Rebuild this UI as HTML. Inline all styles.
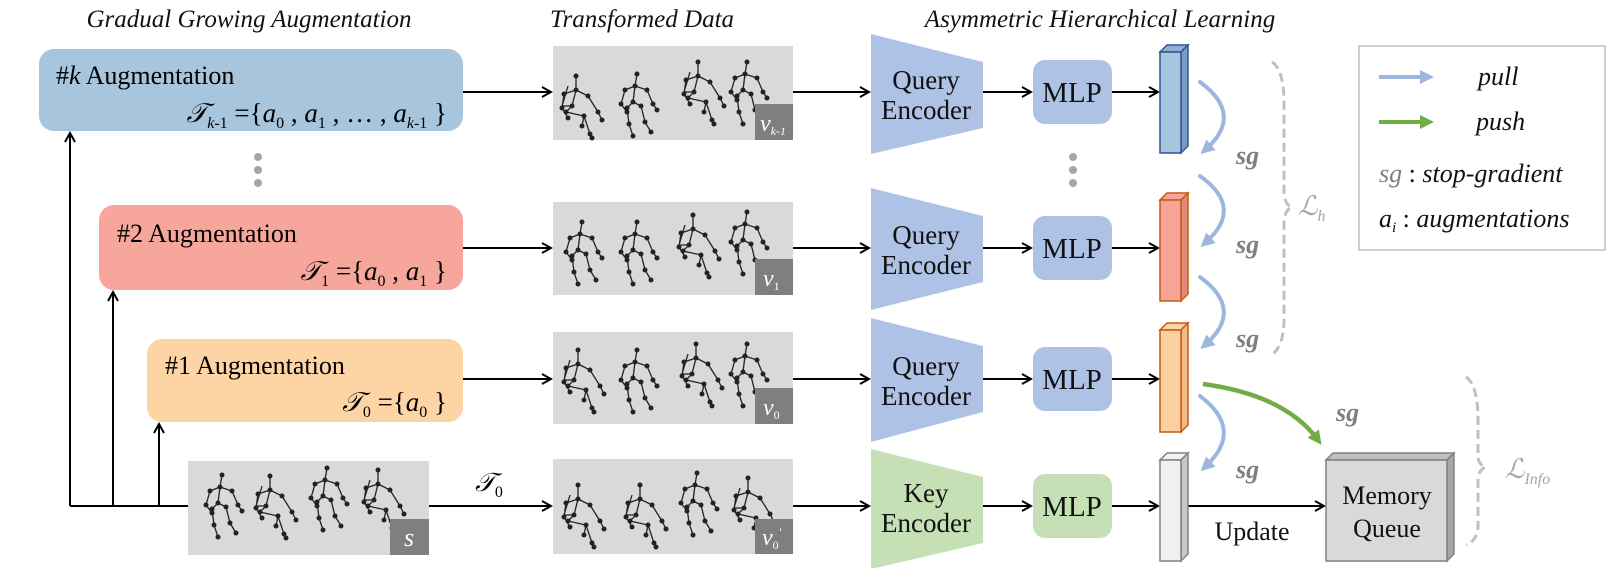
<!DOCTYPE html>
<html><head><meta charset="utf-8"><style>
html,body{margin:0;padding:0;background:#fff;}
svg{display:block;}
text{font-family:"Liberation Serif",serif;}
</style></head><body>
<svg width="1609" height="568" viewBox="0 0 1609 568" xmlns="http://www.w3.org/2000/svg">
<defs>
<marker id="ah" markerWidth="12" markerHeight="12" refX="10" refY="6" orient="auto" markerUnits="userSpaceOnUse">
<path d="M1,1 L10,6 L1,11" fill="none" stroke="#000" stroke-width="2"/></marker>
<marker id="bh" markerWidth="16" markerHeight="16" refX="8" refY="8" orient="auto" markerUnits="userSpaceOnUse">
<path d="M0,1 L14,8 L0,15 Z" fill="#9db6e0"/></marker>
<marker id="gh" markerWidth="16" markerHeight="16" refX="8" refY="8" orient="auto" markerUnits="userSpaceOnUse">
<path d="M0,1 L14,8 L0,15 Z" fill="#70ad47"/></marker>
<g id="fig" fill="none" stroke="#222" stroke-width="1.3">
<path d="M12,0 L10,12 L8,28 M10,12 L0,16 L-4,30 L2,38 M10,12 L22,16 L28,30 L32,36 M8,28 L2,34 L4,50 L8,62 M8,28 L16,32 L20,48 L26,58"/>
<g fill="#222" stroke="none"><circle cx="12" cy="0" r="2.5"/><circle cx="10" cy="12" r="2.5"/><circle cx="0" cy="16" r="2.5"/><circle cx="-4" cy="30" r="2.5"/><circle cx="2" cy="38" r="2.5"/><circle cx="22" cy="16" r="2.5"/><circle cx="28" cy="30" r="2.5"/><circle cx="32" cy="36" r="2.5"/><circle cx="8" cy="28" r="2.5"/><circle cx="2" cy="34" r="2.5"/><circle cx="4" cy="50" r="2.5"/><circle cx="8" cy="62" r="2.5"/><circle cx="16" cy="32" r="2.5"/><circle cx="20" cy="48" r="2.5"/><circle cx="26" cy="58" r="2.5"/></g>
</g>
<g id="fig2" fill="none" stroke="#222" stroke-width="1.3">
<path d="M8,0 L8,14 L4,30 M8,14 L-4,18 L-6,32 L0,42 M8,14 L20,20 L30,36 L34,44 M4,30 L-2,36 L16,40 L22,58 L24,62 M4,30 L-6,30 L0,10 M16,40 L14,50"/>
<g fill="#222" stroke="none"><circle cx="8" cy="0" r="2.5"/><circle cx="8" cy="14" r="2.5"/><circle cx="-4" cy="18" r="2.5"/><circle cx="-6" cy="32" r="2.5"/><circle cx="0" cy="42" r="2.5"/><circle cx="20" cy="20" r="2.5"/><circle cx="30" cy="36" r="2.5"/><circle cx="34" cy="44" r="2.5"/><circle cx="4" cy="30" r="2.5"/><circle cx="-2" cy="36" r="2.5"/><circle cx="16" cy="40" r="2.5"/><circle cx="22" cy="58" r="2.5"/><circle cx="24" cy="62" r="2.5"/><circle cx="14" cy="50" r="2.5"/></g>
</g>
</defs>

<!-- titles -->
<g font-style="italic" font-size="25" fill="#111" text-anchor="middle">
<text x="249" y="27">Gradual Growing Augmentation</text>
<text x="642" y="27">Transformed Data</text>
<text x="1100" y="27">Asymmetric Hierarchical Learning</text>
</g>

<!-- augmentation boxes -->
<rect x="39" y="49" width="424" height="82" rx="15" fill="#a7c6de"/>
<text x="56" y="84" font-size="26">#<tspan font-style="italic">k</tspan> Augmentation</text>
<text x="447" y="122" font-size="27" text-anchor="end"><tspan font-style="italic">𝒯</tspan><tspan font-size="16" dy="6" font-style="italic">k</tspan><tspan font-size="16">-1</tspan><tspan dy="-6"> ={</tspan><tspan font-style="italic">a</tspan><tspan font-size="16" dy="6">0</tspan><tspan dy="-6"> , </tspan><tspan font-style="italic">a</tspan><tspan font-size="16" dy="6">1</tspan><tspan dy="-6"> , … , </tspan><tspan font-style="italic">a</tspan><tspan font-size="16" dy="6" font-style="italic">k</tspan><tspan font-size="16">-1</tspan><tspan dy="-6"> }</tspan></text>
<g fill="#a6a6a6"><circle cx="258" cy="157" r="4"/><circle cx="258" cy="170" r="4"/><circle cx="258" cy="183" r="4"/></g>

<rect x="99" y="205" width="364" height="85" rx="15" fill="#f6a69a"/>
<text x="117" y="242" font-size="26">#2 Augmentation</text>
<text x="447" y="280" font-size="27" text-anchor="end"><tspan font-style="italic">𝒯</tspan><tspan font-size="16" dy="6">1</tspan><tspan dy="-6">  ={</tspan><tspan font-style="italic">a</tspan><tspan font-size="16" dy="6">0</tspan><tspan dy="-6"> , </tspan><tspan font-style="italic">a</tspan><tspan font-size="16" dy="6">1</tspan><tspan dy="-6"> }</tspan></text>

<rect x="147" y="339" width="316" height="83" rx="15" fill="#fdd4a4"/>
<text x="165" y="374" font-size="26">#1 Augmentation</text>
<text x="447" y="411" font-size="27" text-anchor="end"><tspan font-style="italic">𝒯</tspan><tspan font-size="16" dy="6">0</tspan><tspan dy="-6">  ={</tspan><tspan font-style="italic">a</tspan><tspan font-size="16" dy="6">0</tspan><tspan dy="-6"> }</tspan></text>

<!-- left lines -->
<g stroke="#000" stroke-width="2" fill="none">
<line x1="70" y1="506" x2="188" y2="506"/>
<line x1="70" y1="506" x2="70" y2="133" marker-end="url(#ah)"/>
<line x1="113" y1="506" x2="113" y2="292" marker-end="url(#ah)"/>
<line x1="159" y1="506" x2="159" y2="424" marker-end="url(#ah)"/>
<line x1="463" y1="92" x2="551" y2="92" marker-end="url(#ah)"/>
<line x1="463" y1="248" x2="551" y2="248" marker-end="url(#ah)"/>
<line x1="463" y1="379" x2="551" y2="379" marker-end="url(#ah)"/>
<line x1="429" y1="506" x2="551" y2="506" marker-end="url(#ah)"/>
</g>
<text x="475" y="491" font-size="26" font-style="italic">𝒯<tspan font-size="16" dy="6" font-style="normal">0</tspan></text>

<!-- s image -->
<rect x="188" y="461" width="241" height="94" fill="#d9d9d9"/>
<use href="#fig" x="210" y="475"/><use href="#fig2" x="262" y="476"/><use href="#fig" x="315" y="468"/><use href="#fig2" x="370" y="470"/>
<rect x="390" y="519" width="39" height="36" fill="#7f7f7f"/>
<text x="409" y="546" font-size="26" font-style="italic" fill="#fff" text-anchor="middle">s</text>

<!-- transformed images -->
<rect x="553" y="46" width="240" height="94" fill="#d9d9d9"/>
<use href="#fig2" x="568" y="76"/><use href="#fig" x="625" y="74"/><use href="#fig2" x="690" y="62"/><use href="#fig" x="735" y="62"/>
<rect x="755" y="104" width="38" height="36" fill="#7f7f7f"/>
<text x="760" y="131" font-size="24" font-style="italic" fill="#fff">v<tspan font-size="12" dy="4">k-1</tspan></text>

<rect x="553" y="202" width="240" height="93" fill="#d9d9d9"/>
<use href="#fig" x="570" y="222"/><use href="#fig" x="625" y="222"/><use href="#fig2" x="685" y="215"/><use href="#fig" x="735" y="212"/>
<rect x="755" y="259" width="38" height="36" fill="#7f7f7f"/>
<text x="763" y="286" font-size="24" font-style="italic" fill="#fff">v<tspan font-size="12" dy="4" font-style="normal">1</tspan></text>

<rect x="553" y="332" width="240" height="92" fill="#d9d9d9"/>
<use href="#fig2" x="570" y="350"/><use href="#fig" x="625" y="350"/><use href="#fig2" x="688" y="344"/><use href="#fig" x="735" y="344"/>
<rect x="755" y="388" width="38" height="36" fill="#7f7f7f"/>
<text x="763" y="415" font-size="24" font-style="italic" fill="#fff">v<tspan font-size="12" dy="4" font-style="normal">0</tspan></text>

<rect x="553" y="459" width="240" height="95" fill="#d9d9d9"/>
<use href="#fig2" x="570" y="485"/><use href="#fig2" x="632" y="485"/><use href="#fig" x="685" y="473"/><use href="#fig2" x="740" y="478"/>
<rect x="755" y="519" width="38" height="35" fill="#7f7f7f"/>
<text x="762" y="545" font-size="24" font-style="italic" fill="#fff">v<tspan font-size="12" dy="4" font-style="normal">0</tspan><tspan font-size="12" dy="-13">′</tspan></text>

<!-- arrows to encoders -->
<g stroke="#000" stroke-width="2" fill="none">
<line x1="793" y1="92" x2="869" y2="92" marker-end="url(#ah)"/>
<line x1="793" y1="248" x2="869" y2="248" marker-end="url(#ah)"/>
<line x1="793" y1="379" x2="869" y2="379" marker-end="url(#ah)"/>
<line x1="793" y1="506" x2="869" y2="506" marker-end="url(#ah)"/>
<line x1="983" y1="92" x2="1031" y2="92" marker-end="url(#ah)"/>
<line x1="983" y1="248" x2="1031" y2="248" marker-end="url(#ah)"/>
<line x1="983" y1="379" x2="1031" y2="379" marker-end="url(#ah)"/>
<line x1="983" y1="506" x2="1031" y2="506" marker-end="url(#ah)"/>
<line x1="1112" y1="92" x2="1158" y2="92" marker-end="url(#ah)"/>
<line x1="1112" y1="248" x2="1158" y2="248" marker-end="url(#ah)"/>
<line x1="1112" y1="379" x2="1158" y2="379" marker-end="url(#ah)"/>
<line x1="1112" y1="506" x2="1158" y2="506" marker-end="url(#ah)"/>
<line x1="1188" y1="506" x2="1324" y2="506" marker-end="url(#ah)"/>
</g>

<!-- encoders -->
<polygon points="871,34 983,62 983,128 871,154" fill="#aec2e6"/>
<polygon points="871,188 983,216 983,282 871,310" fill="#aec2e6"/>
<polygon points="871,318 983,346 983,412 871,442" fill="#aec2e6"/>
<polygon points="871,449 983,477 983,543 871,569" fill="#c5e0b4"/>
<g font-size="27" text-anchor="middle" fill="#111">
<text x="926" y="89">Query</text><text x="926" y="119">Encoder</text>
<text x="926" y="244">Query</text><text x="926" y="274">Encoder</text>
<text x="926" y="375">Query</text><text x="926" y="405">Encoder</text>
<text x="926" y="502">Key</text><text x="926" y="532">Encoder</text>
</g>

<!-- MLPs -->
<rect x="1033" y="60" width="79" height="64" rx="12" fill="#aec2e6"/>
<rect x="1033" y="216" width="79" height="64" rx="12" fill="#aec2e6"/>
<rect x="1033" y="347" width="79" height="64" rx="12" fill="#aec2e6"/>
<rect x="1033" y="474" width="79" height="64" rx="12" fill="#c5e0b4"/>
<g font-size="29" text-anchor="middle" fill="#111">
<text x="1072" y="102">MLP</text><text x="1072" y="258">MLP</text><text x="1072" y="389">MLP</text><text x="1072" y="516">MLP</text>
</g>
<g fill="#a6a6a6"><circle cx="1073" cy="157" r="4"/><circle cx="1073" cy="170" r="4"/><circle cx="1073" cy="183" r="4"/></g>

<!-- feature bars -->
<g stroke-width="1.5">
<polygon points="1160,52 1167,45 1188,45 1181,52" fill="#8fb1d3" stroke="#2f5597"/>
<polygon points="1181,52 1188,45 1188,146 1181,153" fill="#7a9cc0" stroke="#2f5597"/>
<rect x="1160" y="52" width="21" height="101" fill="#a7c6de" stroke="#2f5597"/>
<polygon points="1160,200 1167,193 1188,193 1181,200" fill="#f6a69a" stroke="#c55a11"/>
<polygon points="1181,200 1188,193 1188,294 1181,301" fill="#e08a7c" stroke="#c55a11"/>
<rect x="1160" y="200" width="21" height="101" fill="#f8a398" stroke="#c55a11"/>
<polygon points="1160,330 1167,323 1188,323 1181,330" fill="#fdd4a4" stroke="#c55a11"/>
<polygon points="1181,330 1188,323 1188,425 1181,432" fill="#f0b985" stroke="#c55a11"/>
<rect x="1160" y="330" width="21" height="102" fill="#fdd0a2" stroke="#c55a11"/>
<polygon points="1160,460 1167,453 1188,453 1181,460" fill="#f2f2f2" stroke="#808080"/>
<polygon points="1181,460 1188,453 1188,554 1181,561" fill="#c8c8c8" stroke="#808080"/>
<rect x="1160" y="460" width="21" height="101" fill="#f0f0f0" stroke="#808080"/>
<polygon points="1326,460 1333,453 1454,453 1447,460" fill="#c0c0c0" stroke="#808080"/>
<polygon points="1447,460 1454,453 1454,554 1447,561" fill="#a6a6a6" stroke="#808080"/>
<rect x="1326" y="460" width="121" height="101" fill="#d9d9d9" stroke="#808080"/>
</g>
<g font-size="26" text-anchor="middle" fill="#111">
<text x="1387" y="504">Memory</text><text x="1387" y="537">Queue</text>
<text x="1252" y="540">Update</text>
</g>

<!-- pull curves -->
<g stroke="#9db6e0" stroke-width="4" fill="none" stroke-linecap="round">
<path d="M1200,82 Q1245,115 1205,150" marker-end="url(#bh)"/>
<path d="M1200,176 Q1245,208 1205,243" marker-end="url(#bh)"/>
<path d="M1200,277 Q1245,310 1205,345" marker-end="url(#bh)"/>
<path d="M1200,396 Q1245,430 1205,467" marker-end="url(#bh)"/>
</g>
<path d="M1203,384 Q1285,395 1318,440" stroke="#70ad47" stroke-width="4.5" fill="none" marker-end="url(#gh)"/>
<g font-size="26" font-style="italic" font-weight="bold" fill="#7f7f7f">
<text x="1236" y="164">sg</text><text x="1236" y="253">sg</text><text x="1236" y="347">sg</text><text x="1236" y="478">sg</text>
<text x="1336" y="421">sg</text>
</g>

<!-- braces -->
<g stroke="#c0c0c0" stroke-width="3" fill="none" stroke-dasharray="9,5">
<path d="M1272,62 Q1285,70 1284,110 L1284,190 Q1284,205 1292,207 Q1284,210 1284,225 L1284,320 Q1284,345 1272,355"/>
<path d="M1466,377 Q1478,385 1478,420 L1478,455 Q1478,465 1486,467 Q1478,470 1478,480 L1478,525 Q1478,540 1466,545"/>
</g>
<text x="1298" y="215" font-size="27" font-style="italic" fill="#a6a6a6">ℒ<tspan font-size="16" dy="6">h</tspan></text>
<text x="1505" y="478" font-size="27" font-style="italic" fill="#a6a6a6">ℒ<tspan font-size="16" dy="6">Info</tspan></text>

<!-- legend -->
<rect x="1359" y="46" width="246" height="204" fill="#fff" stroke="#bfbfbf" stroke-width="1.5"/>
<line x1="1379" y1="77" x2="1428" y2="77" stroke="#9db6e0" stroke-width="4" marker-end="url(#bh)"/>
<line x1="1379" y1="122" x2="1428" y2="122" stroke="#70ad47" stroke-width="4" marker-end="url(#gh)"/>
<g font-size="26" font-style="italic" fill="#111">
<text x="1478" y="85">pull</text>
<text x="1476" y="130">push</text>
<text x="1379" y="182"><tspan fill="#7f7f7f">sg</tspan><tspan font-style="normal"> : </tspan>stop-gradient</text>
<text x="1379" y="227">a<tspan font-size="15" dy="5">i</tspan><tspan dy="-5" font-style="normal">  : </tspan>augmentations</text>
</g>
</svg>
</body></html>
